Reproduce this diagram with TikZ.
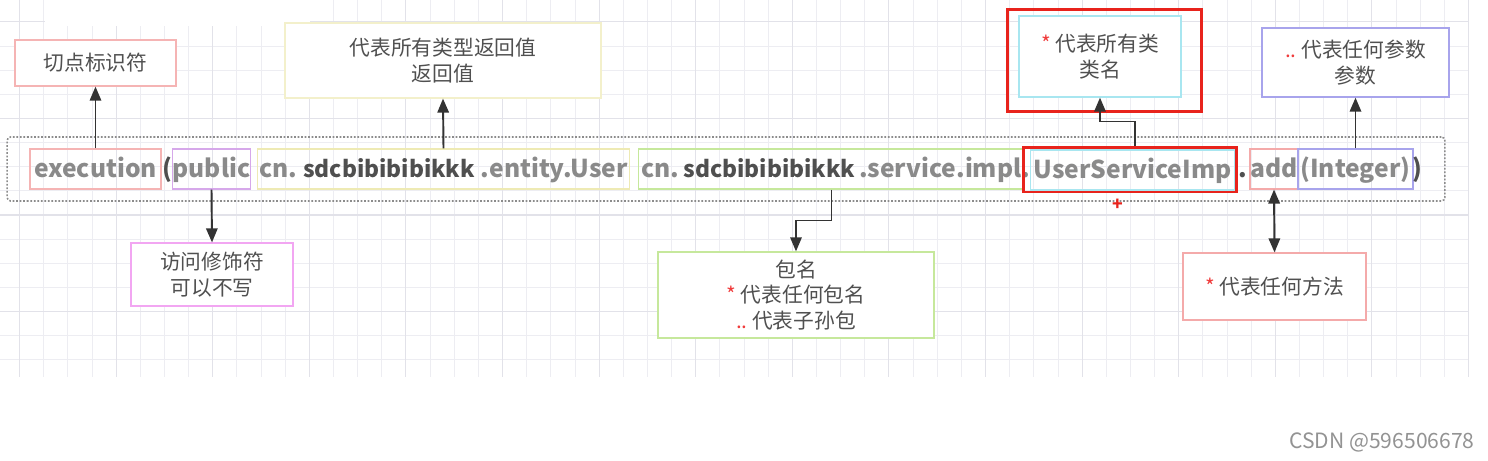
\documentclass[tikz,border=0pt]{standalone}
\usepackage{fontspec}
\setmainfont{Noto Sans CJK SC}
\usepackage{tikz}
\usetikzlibrary{arrows.meta, positioning, calc}
\definecolor{rowtext}{HTML}{8A8A8A}
\definecolor{darktext}{HTML}{4F4F4F}
\definecolor{notetext}{HTML}{505050}
\definecolor{starred}{HTML}{F03C3C}
\definecolor{hot}{HTML}{E8231C}
\definecolor{gridminor}{HTML}{EDEDF2}
\definecolor{gridmajor}{HTML}{E2E2E9}
\definecolor{lnk}{HTML}{333333}
\definecolor{cutred}{HTML}{F5B4B4}
\definecolor{pubviolet}{HTML}{D6A8EA}
\definecolor{retyellow}{HTML}{EEEAB4}
\definecolor{pkggreen}{HTML}{C6E89C}
\definecolor{clscyan}{HTML}{A8E6F0}
\definecolor{argblue}{HTML}{A8A4EC}
\definecolor{modpink}{HTML}{F2A6F2}
\definecolor{mthred}{HTML}{F4AAAA}
\tikzset{
  seg/.style={
    draw, line width=0.6pt,
    minimum height=0.8cm, inner sep=0pt,
    text height=14pt, text depth=3.8pt,
    text=rowtext,
    font=\fontsize{14}{16}\selectfont\bfseries
  },
  punct/.style={
    seg, draw=none, text=darktext
  },
  hotbox/.style={
    draw=hot, line width=1.7pt, inner sep=0pt
  },
  note/.style={
    draw, line width=0.7pt, fill=white,
    inner sep=0pt, align=center,
    text=notetext,
    font=\fontsize{11.8}{14.5}\selectfont
  },
  rowframe/.style={
    draw=gray!90, line width=0.9pt,
    dash pattern=on 1pt off 1pt, rounded corners=2pt,
    inner sep=0pt
  },
  link/.style={
    -{Triangle[length=8pt,width=6.5pt]},
    line width=1.1pt, color=lnk
  },
  twolink/.style={
    link, {Triangle[length=8pt,width=6.5pt]}-{Triangle[length=8pt,width=6.5pt]}
  }
}
\newcommand{\rs}{\textcolor{starred}{*}}
\newcommand{\rd}{\textcolor{starred}{..}}
\newcommand{\pkgid}{{\fontsize{13}{16}\selectfont\textcolor{darktext}{sdcbibibibikkk}}}

\begin{document}
\begin{tikzpicture}[x=0.02cm, y=-0.02cm]
  \useasboundingbox (0,0) rectangle (1488,460);
  \fill[white] (0,0) rectangle (1488,460);

  % Grid
  \foreach \i in {0,...,60}
    \draw[gridminor, line width=0.5pt] ({19.5+24.15*\i},0) -- ({19.5+24.15*\i},377);
  \foreach \j in {0,...,14}
    \draw[gridminor, line width=0.5pt] (0,{21.8+24.15*\j}) -- (1468,{21.8+24.15*\j});
  \foreach \i in {0,...,15}
    \draw[gridmajor, line width=0.6pt] ({19.5+96.6*\i},0) -- ({19.5+96.6*\i},377);
  \foreach \j in {0,...,3}
    \draw[gridmajor, line width=0.6pt] (0,{21.8+96.6*\j}) -- (1468,{21.8+96.6*\j});
  \fill[white] (45,0) rectangle (310,26);

  % Expression row
  \node[rowframe, minimum width=28.76cm, minimum height=1.28cm] (row) at (726,169) {};
  \node[seg, draw=cutred, minimum width=2.62cm] (exec) at (95.5,169) {execution};
  \node[punct] (lpar) at (167,169) {(};
  \node[seg, draw=pubviolet, minimum width=1.54cm] (pub) at (211.5,169) {public};
  \node[seg, draw=retyellow, minimum width=7.46cm] (ent) at (443.5,169)
    {\makebox[7.38cm]{cn.\hfill\pkgid\hfill.entity.User}};
  \node[seg, draw=pkggreen, minimum width=7.74cm] (svc) at (831.5,169)
    {\makebox[7.6cm]{cn.\hfill\pkgid\hfill.service.impl}};
  \node[punct, text=rowtext] (dot1) at (1026,169) {.};
  \node[seg, draw=clscyan, minimum width=4.1cm] (cls) at (1132.5,170) {UserServiceImp};
  \node[hotbox, minimum width=4.28cm, minimum height=0.9cm] (clsr) at (1130,169.5) {};
  \node[punct] (dot2) at (1243,169) {.};
  \node[seg, draw=mthred, minimum width=0.96cm] (add) at (1274,169) {add};
  \node[seg, draw=argblue, minimum width=2.3cm] (arg) at (1355.5,169) {(Integer)};
  \node[punct] (rpar) at (1417,169) {)};
  \node[text=hot, font=\fontsize{10}{10}\selectfont\bfseries, inner sep=0pt] (plus) at (1118,205) {+};

  % Notes above
  \node[note, draw=cutred, minimum width=3.22cm, minimum height=0.92cm] (cut) at (95.5,63) {切点标识符};
  \node[note, draw=retyellow!70, minimum width=6.32cm, minimum height=1.5cm] (ret) at (443,60.5) {代表所有类型返回值\\返回值};
  \node[hotbox, minimum width=3.9cm, minimum height=2.06cm] (clsnr) at (1104.5,60.5) {};
  \node[note, draw=clscyan, minimum width=3.24cm, minimum height=1.62cm] (clsn) at (1100,56.5) {\rs\ 代表所有类\\类名};
  \node[note, draw=argblue, minimum width=3.74cm, minimum height=1.38cm] (par) at (1355.5,62.5) {\rd\ 代表任何参数\\参数};

  % Notes below
  \node[note, draw=modpink, minimum width=3.24cm, minimum height=1.26cm] (mod) at (212,274.5) {访问修饰符\\可以不写};
  \node[note, draw=pkggreen, minimum width=5.52cm, minimum height=1.72cm] (pkg) at (796,295) {包名\\\rs\ 代表任何包名\\\rd\ 代表子孙包};
  \node[note, draw=mthred, minimum width=3.66cm, minimum height=1.34cm] (mth) at (1274.5,286.5) {\rs\ 代表任何方法};

  % Links
  \draw[link] (exec.north) -- (cut.south);
  \draw[link] (ent.north) -- (ret.south);
  \draw[link] (pub.south) -- (mod.north);
  \draw[link] (svc.south) -- ++(0,31) -| (pkg.north);
  \draw[link] ([xshift=0.1cm]clsr.north) -- ++(0,-24) -| (clsn.south);
  \draw[link] (arg.north) -- (par.south);
  \draw[twolink] (add.south) -- (mth.north);

  % Watermark
  \node[text=gray!85, font=\fontsize{12}{14}\selectfont, inner sep=0pt] (mark) at (1382,442) {CSDN @596506678};
\end{tikzpicture}
\end{document}
